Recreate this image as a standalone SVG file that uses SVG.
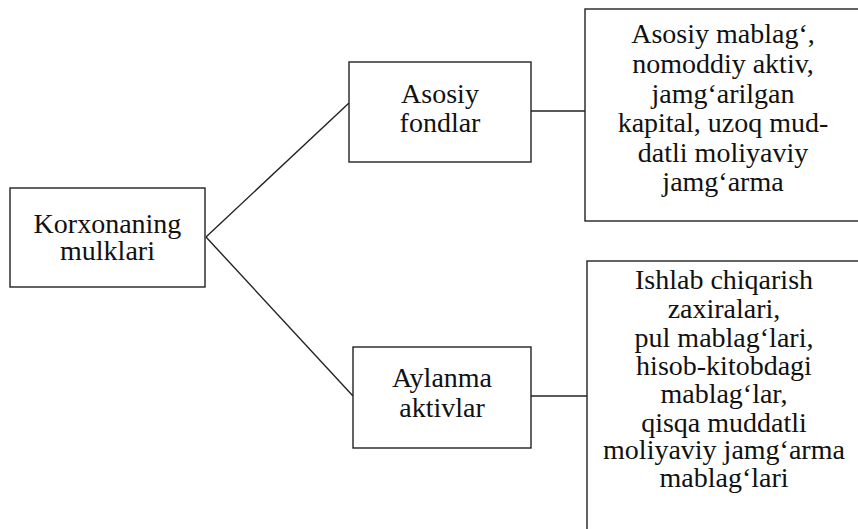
<svg xmlns="http://www.w3.org/2000/svg" width="858" height="529" viewBox="0 0 858 529">
<style>
.box{fill:#fff;stroke:#222;stroke-width:1.4}
.ln{stroke:#222;stroke-width:1.4;fill:none}
.t{font-family:"Liberation Serif","Times New Roman",serif;font-size:28px;fill:#111;text-anchor:middle}
</style>
<rect width="858" height="529" fill="#fff"/>
<g id="connectors">
<line class="ln" x1="206" y1="237" x2="349" y2="103"/>
<line class="ln" x1="206" y1="237" x2="353" y2="396"/>
<line class="ln" x1="531" y1="111" x2="585" y2="111"/>
<line class="ln" x1="531" y1="396" x2="587" y2="396"/>
</g>
<g id="korxona">
<rect class="box" x="10" y="188" width="195" height="99"/>
<text class="t" x="107.5" y="233">Korxonaning</text>
<text class="t" x="107.5" y="260">mulklari</text>
</g>
<g id="asosiy">
<rect class="box" x="349" y="62" width="182" height="100"/>
<text class="t" x="440" y="103">Asosiy</text>
<text class="t" x="440" y="132">fondlar</text>
</g>
<g id="aylanma">
<rect class="box" x="353" y="347" width="178" height="101"/>
<text class="t" x="442" y="387">Aylanma</text>
<text class="t" x="442" y="417">aktivlar</text>
</g>
<g id="asosiy-tarkib">
<rect class="box" x="585" y="9" width="290" height="212"/>
<text class="t" x="723" y="43">Asosiy mablag‘,</text>
<text class="t" x="723" y="73">nomoddiy aktiv,</text>
<text class="t" x="723" y="103">jamg‘arilgan</text>
<text class="t" x="723" y="132">kapital, uzoq mud-</text>
<text class="t" x="723" y="162">datli moliyaviy</text>
<text class="t" x="723" y="191">jamg‘arma</text>
</g>
<g id="aylanma-tarkib">
<rect class="box" x="587" y="261" width="290" height="290"/>
<text class="t" x="724" y="289">Ishlab chiqarish</text>
<text class="t" x="724" y="318">zaxiralari,</text>
<text class="t" x="724" y="347">pul mablag‘lari,</text>
<text class="t" x="724" y="375">hisob-kitobdagi</text>
<text class="t" x="724" y="403">mablag‘lar,</text>
<text class="t" x="724" y="432">qisqa muddatli</text>
<text class="t" x="724" y="459">moliyaviy jamg‘arma</text>
<text class="t" x="724" y="487">mablag‘lari</text>
</g>
</svg>
